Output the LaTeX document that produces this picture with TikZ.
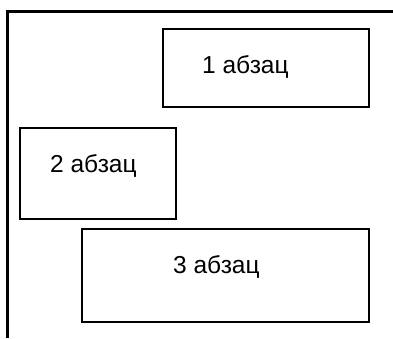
\documentclass[tikz,border=0pt]{standalone}
\usepackage{fontspec}
\setmainfont{Liberation Sans}
\usetikzlibrary{positioning}

\begin{document}
\begin{tikzpicture}[x=1pt, y=1pt,
            para/.style={draw=black, line width=2pt, rectangle, inner sep=0pt},
            caption/.style={anchor=base west, inner sep=0pt, font=\fontsize{24.5}{28}\selectfont}]
        \useasboundingbox (0,0) rectangle (393,338);
        % page edge
        \draw[line width=2.2pt] (7.5,0) -- (7.5,326.5) -- (393,326.5);

        \node[para, minimum width=206pt, minimum height=78pt] (first) at (266,270) {};
        \node[para, minimum width=156pt, minimum height=91pt] (second) at (98,164.5) {};
        \node[para, minimum width=287pt, minimum height=93pt] (third) at (225.5,62.5) {};

        \node[caption] (first-text) at ([xshift=40pt, yshift=-45pt]first.north west) {1 абзац};
        \node[caption] (second-text) at ([xshift=31pt, yshift=-45pt]second.north west) {2 абзац};
        \node[caption] (third-text) at ([xshift=92pt, yshift=-45pt]third.north west) {3 абзац};
    \end{tikzpicture}
\end{document}
